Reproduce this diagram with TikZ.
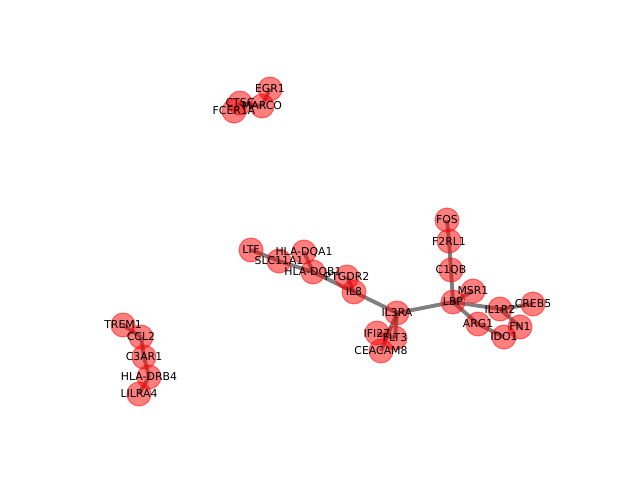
\documentclass[tikz,border=0pt]{standalone}
\usepackage{fontspec}
\setmainfont{DejaVu Sans}
\usepackage{tikz}
\pgfdeclarelayer{background}
\pgfsetlayers{background,main}
\tikzset{
	gene/.style={circle, inner sep=0pt, minimum size=0.48cm, fill=red, draw=red, fill opacity=0.5, draw opacity=0.5, line width=0.6pt},
	tag/.style={inner sep=0pt, font=\fontsize{6.2}{7}\selectfont},
	link/.style={draw=black, draw opacity=0.5, line width=2.2pt}
}

\begin{document}
\begin{tikzpicture}[x=0.02cm, y=-0.02cm]
			%%%%% START %%%%%
			\useasboundingbox (0, 0) rectangle (640, 480);
			
			\node[gene] (egr1) at (270, 89) {};
			\node[gene] (ctsc) at (240, 103) {};
			\node[gene] (marco) at (262, 106) {};
			\node[gene] (fcer1a) at (234, 111) {};
			
			\node[gene] (ltf) at (251, 250) {};
			\node[gene] (slc) at (279, 261) {};
			\node[gene] (dqa1) at (304, 252) {};
			\node[gene] (dqb1) at (313, 272) {};
			\node[gene] (ptgdr2) at (347, 277) {};
			\node[gene] (il8) at (354, 292) {};
			\node[gene] (il3ra) at (397, 313) {};
			\node[gene] (ifi27) at (377, 333) {};
			\node[gene] (flt3) at (395, 338) {};
			\node[gene] (ceacam8) at (381, 351) {};
			
			\node[gene] (fos) at (447, 220) {};
			\node[gene] (f2rl1) at (449, 241) {};
			\node[gene] (c1qb) at (451, 270) {};
			\node[gene] (lbp) at (453, 302) {};
			\node[gene] (msr1) at (473, 291) {};
			\node[gene] (il1r2) at (500, 309) {};
			\node[gene] (creb5) at (533, 304) {};
			\node[gene] (fn1) at (520, 327) {};
			\node[gene] (arg1) at (478, 324) {};
			\node[gene] (ido1) at (504, 337) {};
			
			\node[gene] (trem1) at (123, 325) {};
			\node[gene] (ccl2) at (141, 337) {};
			\node[gene] (c3ar1) at (144, 357) {};
			\node[gene] (drb4) at (149, 377) {};
			\node[gene] (lilra4) at (139, 394) {};
			
			% edges under the dots
			\begin{pgfonlayer}{background}
			\draw[link] (egr1.center) -- (marco.center);
			\draw[link] (marco.center) -- (ctsc.center);
			\draw[link] (ctsc.center) -- (fcer1a.center);
			
			\draw[link] (ltf.center) -- (slc.center);
			\draw[link] (slc.center) -- (dqb1.center);
			\draw[link] (dqa1.center) -- (dqb1.center);
			\draw[link] (dqb1.center) -- (il8.center);
			\draw[link] (ptgdr2.center) -- (il8.center);
			\draw[link] (il8.center) -- (il3ra.center);
			\draw[link] (il3ra.center) -- (ceacam8.center);
			\draw[link] (il3ra.center) -- (flt3.center);
			\draw[link] (ifi27.center) -- (flt3.center);
			\draw[link] (il3ra.center) -- (lbp.center);
			
			\draw[link] (fos.center) -- (f2rl1.center);
			\draw[link] (f2rl1.center) -- (c1qb.center);
			\draw[link] (c1qb.center) -- (lbp.center);
			\draw[link] (lbp.center) -- (msr1.center);
			\draw[link] (lbp.center) -- (il1r2.center);
			\draw[link] (il1r2.center) -- (creb5.center);
			\draw[link] (il1r2.center) -- (fn1.center);
			\draw[link] (lbp.center) -- (arg1.center);
			\draw[link] (arg1.center) -- (ido1.center);
			
			\draw[link] (trem1.center) -- (ccl2.center);
			\draw[link] (ccl2.center) -- (c3ar1.center);
			\draw[link] (c3ar1.center) -- (drb4.center);
			\draw[link] (drb4.center) -- (lilra4.center);
			\end{pgfonlayer}
			
			% names on top
			\node[tag] (egr1-t) at (egr1) {EGR1};
			\node[tag] (ctsc-t) at (ctsc) {CTSC};
			\node[tag] (marco-t) at (marco) {MARCO};
			\node[tag] (fcer1a-t) at (fcer1a) {FCER1A};
			
			\node[tag] (ltf-t) at (ltf) {LTF};
			\node[tag] (slc-t) at (slc) {SLC11A1};
			\node[tag] (dqa1-t) at (dqa1) {HLA-DQA1};
			\node[tag] (dqb1-t) at (dqb1) {HLA-DQB1};
			\node[tag] (ptgdr2-t) at (ptgdr2) {PTGDR2};
			\node[tag] (il8-t) at (il8) {IL8};
			\node[tag] (il3ra-t) at (il3ra) {IL3RA};
			\node[tag] (ifi27-t) at (ifi27) {IFI27};
			\node[tag] (flt3-t) at (flt3) {FLT3};
			\node[tag] (ceacam8-t) at (ceacam8) {CEACAM8};
			
			\node[tag] (fos-t) at (fos) {FOS};
			\node[tag] (f2rl1-t) at (f2rl1) {F2RL1};
			\node[tag] (c1qb-t) at (c1qb) {C1QB};
			\node[tag] (lbp-t) at (lbp) {LBP};
			\node[tag] (msr1-t) at (msr1) {MSR1};
			\node[tag] (il1r2-t) at (il1r2) {IL1R2};
			\node[tag] (creb5-t) at (creb5) {CREB5};
			\node[tag] (fn1-t) at (fn1) {FN1};
			\node[tag] (arg1-t) at (arg1) {ARG1};
			\node[tag] (ido1-t) at (ido1) {IDO1};
			
			\node[tag] (trem1-t) at (trem1) {TREM1};
			\node[tag] (ccl2-t) at (ccl2) {CCL2};
			\node[tag] (c3ar1-t) at (c3ar1) {C3AR1};
			\node[tag] (drb4-t) at (drb4) {HLA-DRB4};
			\node[tag] (lilra4-t) at (lilra4) {LILRA4};
			%%%%% END %%%%%
\end{tikzpicture}
\end{document}
